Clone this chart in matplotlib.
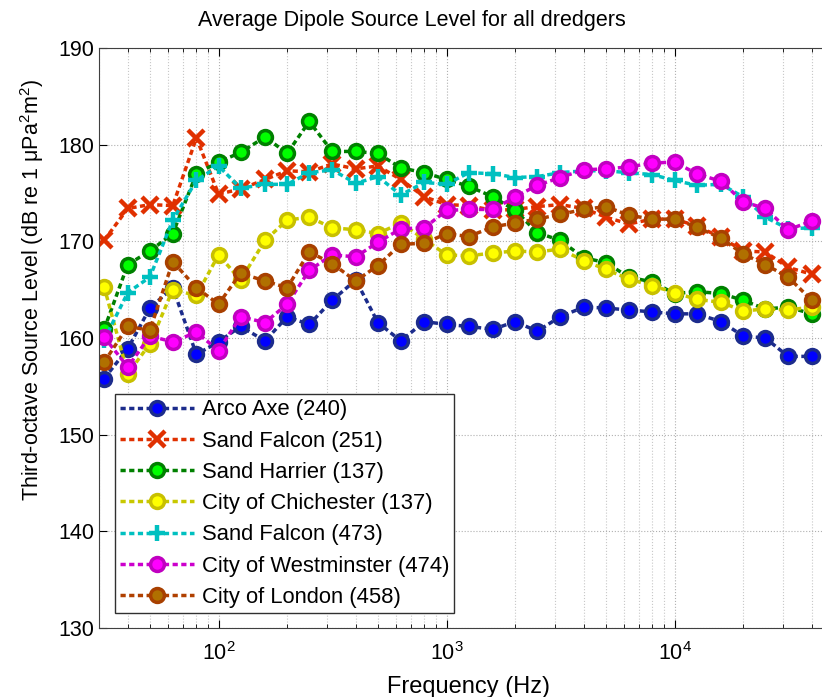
import matplotlib
matplotlib.use("Agg")
import matplotlib.pyplot as plt
from matplotlib.ticker import LogLocator, NullFormatter

plt.rcParams["font.family"] = ["Liberation Sans", "DejaVu Sans"]
plt.rcParams["mathtext.fontset"] = "custom"
plt.rcParams["mathtext.rm"] = "Liberation Sans"
plt.rcParams["mathtext.it"] = "Liberation Sans:italic"

# third-octave band centres (Hz)
freqs = [31.5, 40, 50, 63, 80, 100, 125, 160, 200, 250, 315, 400, 500, 630, 800,
         1000, 1250, 1600, 2000, 2500, 3150, 4000, 5000, 6300, 8000, 10000,
         12500, 16000, 20000, 25000, 31500, 40000]

arco_axe = [155.8, 158.9, 163.1, 165.2, 158.3, 159.6, 161.2, 159.7, 162.2, 161.4, 163.9,
            166.0, 161.6, 159.7, 161.7, 161.4, 161.2, 160.9, 161.7, 160.7, 162.2, 163.2,
            163.1, 162.9, 162.7, 162.5, 162.5, 161.7, 160.2, 160.0, 158.1, 158.1]
sand_falcon_251 = [170.1, 173.4, 173.8, 173.7, 180.7, 174.9, 175.4, 176.4, 177.3, 177.2, 178.0,
                   177.5, 177.8, 176.4, 174.6, 173.8, 173.7, 173.2, 173.3, 173.6, 173.8, 173.4,
                   172.5, 171.8, 172.3, 172.3, 171.6, 170.4, 169.0, 168.9, 167.3, 166.6]
sand_harrier_137 = [160.9, 167.6, 169.0, 170.8, 177.0, 178.2, 179.2, 180.8, 179.1, 182.4, 179.3,
                    179.3, 179.1, 177.6, 177.1, 176.4, 175.7, 174.6, 173.2, 170.9, 170.1, 168.3,
                    167.8, 166.3, 165.8, 164.6, 164.8, 164.6, 163.9, 163.0, 163.2, 162.5]
chichester_137 = [165.3, 156.3, 159.4, 165.0, 164.4, 168.6, 166.0, 170.1, 172.2, 172.5, 171.4,
                  171.2, 170.8, 171.9, 170.2, 168.6, 168.5, 168.8, 169.0, 168.9, 169.2, 168.0,
                  167.1, 166.1, 165.4, 164.7, 164.0, 163.7, 162.8, 163.0, 162.9, 163.2]
sand_falcon_473 = [159.8, 164.7, 166.3, 172.2, 176.3, 177.8, 175.5, 175.9, 175.9, 177.1, 177.4,
                   176.0, 176.7, 174.8, 176.1, 175.9, 177.1, 177.0, 176.6, 176.7, 177.1, 177.3,
                   177.3, 177.1, 176.9, 176.3, 175.8, 175.9, 174.6, 172.5, 171.3, 171.4]
westminster_474 = [160.1, 157.0, 160.2, 159.6, 160.6, 158.7, 162.2, 161.6, 163.5, 167.0, 168.6,
                   168.4, 169.9, 171.3, 171.4, 173.2, 173.3, 173.3, 174.6, 175.8, 176.6, 177.4,
                   177.5, 177.7, 178.1, 178.2, 177.0, 176.2, 174.1, 173.4, 171.2, 172.1]
london_458 = [157.5, 161.2, 160.8, 167.9, 165.2, 163.5, 166.7, 165.9, 165.2, 168.9, 167.7,
              165.9, 167.5, 169.7, 169.8, 170.8, 170.5, 171.5, 171.9, 172.3, 172.8, 173.3,
              173.6, 172.7, 172.3, 172.3, 171.5, 170.3, 168.7, 167.6, 166.3, 163.9]

labels = ["Arco Axe (240)", "Sand Falcon (251)", "Sand Harrier (137)",
          "City of Chichester (137)", "Sand Falcon (473)", "City of Westminster (474)",
          "City of London (458)"]
series = [arco_axe, sand_falcon_251, sand_harrier_137, chichester_137,
          sand_falcon_473, westminster_474, london_458]

# (line colour, marker, face colour, edge colour)
styles = [
    ("#1c2c8c", "o", "#0000ff", "#1c2c8c"),
    ("#e03000", "x", "#e03000", "#e03000"),
    ("#008000", "o", "#00ff00", "#008000"),
    ("#c8c800", "o", "#ffff00", "#c8c000"),
    ("#00c0c0", "+", "#00c0c0", "#00c0c0"),
    ("#cc00cc", "o", "#ff00ff", "#c000c0"),
    ("#b04000", "o", "#b07000", "#a84000"),
]

fig = plt.figure(figsize=(8.22, 6.97), dpi=100)
# the right spine sits just past the image edge, as in the original
ax = fig.add_axes([0.1208, 0.0990, 0.8937, 0.8321])

for vals, lab, (lc, mk, fc, ec) in zip(series, labels, styles):
    if mk == "o":
        ax.plot(freqs, vals, color=lc, ls=(0, (1.5, 1.0)), lw=2.5, marker="o", ms=10,
                mfc=fc, mec=ec, mew=2.5, label=lab)
    else:
        ax.plot(freqs, vals, color=lc, ls=(0, (1.5, 1.0)), lw=2.5, marker=mk, ms=12,
                mec=ec, mew=3.2, label=lab)

ax.set_xscale("log")
ax.set_xlim(30, 50000)
ax.set_ylim(130, 190)
ax.set_yticks(range(130, 191, 10))
ax.xaxis.set_minor_locator(LogLocator(base=10, subs=range(2, 10), numticks=20))
ax.xaxis.set_minor_formatter(NullFormatter())

ax.grid(True, which="major", ls=":", color="#b0b0b0", lw=0.8)
ax.grid(True, which="minor", axis="x", ls=":", color="#c8c8c8", lw=0.8)
ax.tick_params(which="both", direction="in", top=True, right=True, labelsize=15.5)
ax.tick_params(which="major", length=6)
ax.tick_params(which="minor", length=3)
ax.tick_params(axis="x", which="major", pad=10)
for s in ax.spines.values():
    s.set_color("#404040")

ax.set_title("Average Dipole Source Level for all dredgers", fontsize=15.5, pad=16, x=0.425)
ax.set_xlabel("Frequency (Hz)", fontsize=17)
ax.xaxis.set_label_coords(0.503, -0.083)
ax.set_ylabel("Third-octave Source Level (dB re 1 μPa$^2$m$^2$)", fontsize=15.5)
ax.yaxis.set_label_coords(-0.0726, 0.582)

leg = ax.legend(loc="lower left", bbox_to_anchor=(0.021, 0.026), borderaxespad=0,
                fontsize=15.8, handlelength=3.4, labelspacing=0.47, fancybox=False,
                framealpha=1, edgecolor="#303030", borderpad=0.22, handletextpad=0.35)
leg.get_frame().set_linewidth(1.0)

fig.savefig("out.png", dpi=100)
